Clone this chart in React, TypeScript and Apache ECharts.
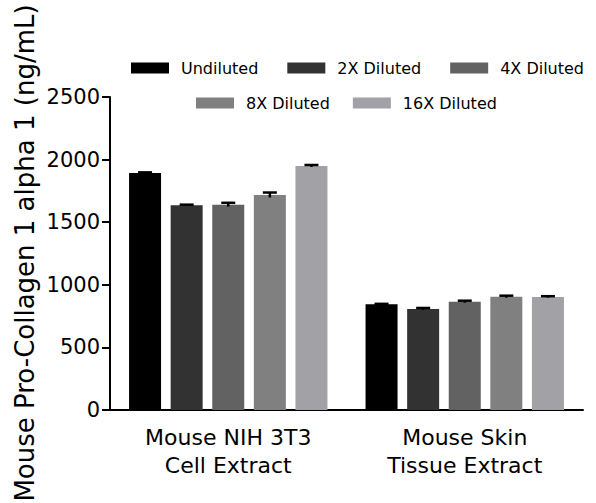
import React, { useEffect, useRef } from "react";
import * as echarts from "echarts";

const categories = ["Mouse NIH 3T3\nCell Extract", "Mouse Skin\nTissue Extract"];
const seriesNames = ["Undiluted", "2X Diluted", "4X Diluted", "8X Diluted", "16X Diluted"];
const seriesColors = ["#000000", "#323232", "#626262", "#808080", "#a2a2a6"];
const undiluted = [1893, 844];
const diluted2x = [1635, 807];
const diluted4x = [1640, 865];
const diluted8x = [1717, 905];
const diluted16x = [1949, 903];
const errUndiluted = [5, 4];
const err2x = [5, 8];
const err4x = [15, 8];
const err8x = [20, 8];
const err16x = [8, 6];
const yTicks = { min: 0, max: 2500, interval: 500 };

const FONT = "DejaVu Sans";
const BAR_W = 32;
const BAR_GAP = 0.3;

export default function App() {
  const ref = useRef<HTMLDivElement>(null);
  useEffect(() => {
    document.body.style.margin = "0";
    if (!ref.current) return;
    const chart = echarts.init(ref.current, undefined, { renderer: "svg" });
    const values = [undiluted, diluted2x, diluted4x, diluted8x, diluted16x];
    const errs = [errUndiluted, err2x, err4x, err8x, err16x];
    const n = values.length;

    const barSeries = values.map((v, i) => ({
      name: seriesNames[i],
      type: "bar",
      data: v,
      barWidth: BAR_W,
      barGap: BAR_GAP * 100 + "%",
      itemStyle: { color: seriesColors[i] },
      z: 2,
    }));

    const errSeries = values.map((v, i) => ({
      name: seriesNames[i] + " err",
      type: "custom",
      z: 3,
      data: v.map((val, c) => [c, val, errs[i][c]]),
      encode: { x: 0, y: 1 },
      renderItem: (params: any, api: any) => {
        const c = api.value(0);
        const val = api.value(1);
        const e = api.value(2);
        const center = api.coord([c, val]);
        const pitch = BAR_W * (1 + BAR_GAP);
        const x = center[0] + (i - (n - 1) / 2) * pitch;
        const top = api.coord([c, val + e])[1];
        const bot = api.coord([c, val - e])[1];
        const style = { stroke: "#000", lineWidth: 2.5, fill: "none" };
        return {
          type: "group",
          children: [
            { type: "line", shape: { x1: x, y1: top, x2: x, y2: bot }, style },
            { type: "line", shape: { x1: x - 7, y1: top, x2: x + 7, y2: top }, style },
          ],
        };
      },
    }));

    const legendCommon = {
      orient: "horizontal",
      itemWidth: 38,
      itemHeight: 11,
      icon: "rect",
      width: 500,
      textStyle: { fontFamily: FONT, fontSize: 16, color: "#000", padding: [0, 0, 0, 7] },
    };

    chart.setOption({
      animation: false,
      backgroundColor: "#fff",
      legend: [
        { ...legendCommon, data: seriesNames.slice(0, 3), left: 126, top: 55, itemGap: 29 },
        { ...legendCommon, data: seriesNames.slice(3), left: 191, top: 90, itemGap: 23 },
      ],
      grid: { left: 110, right: 13, top: 97, bottom: 93, containLabel: false },
      xAxis: {
        type: "category",
        data: categories,
        axisLine: { lineStyle: { color: "#000", width: 2 } },
        axisTick: { alignWithLabel: true, length: 8, lineStyle: { color: "#000", width: 2 } },
        axisLabel: { fontFamily: FONT, fontSize: 22, color: "#000", lineHeight: 28, margin: 13 },
      },
      yAxis: {
        type: "value",
        min: yTicks.min,
        max: yTicks.max,
        interval: yTicks.interval,
        splitLine: { show: false },
        axisLine: { show: true, lineStyle: { color: "#000", width: 2 } },
        axisTick: { show: true, length: 8, lineStyle: { color: "#000", width: 2 } },
        axisLabel: {
          fontFamily: FONT,
          fontSize: 21,
          color: "#000",
          margin: 10,
          formatter: (v: number) => String(v),
        },
      },
      graphic: [
        {
          type: "text",
          x: 25,
          y: 253,
          rotation: Math.PI / 2,
          style: {
            text: "Mouse Pro-Collagen 1 alpha 1 (ng/mL)",
            fontFamily: FONT,
            fontSize: 26,
            fill: "#000",
            textAlign: "center",
            textVerticalAlign: "middle",
          },
        },
      ],
      series: [...barSeries, ...errSeries],
    });
    return () => chart.dispose();
  }, []);
  return <div ref={ref} style={{ width: 596, height: 503 }} />;
}
